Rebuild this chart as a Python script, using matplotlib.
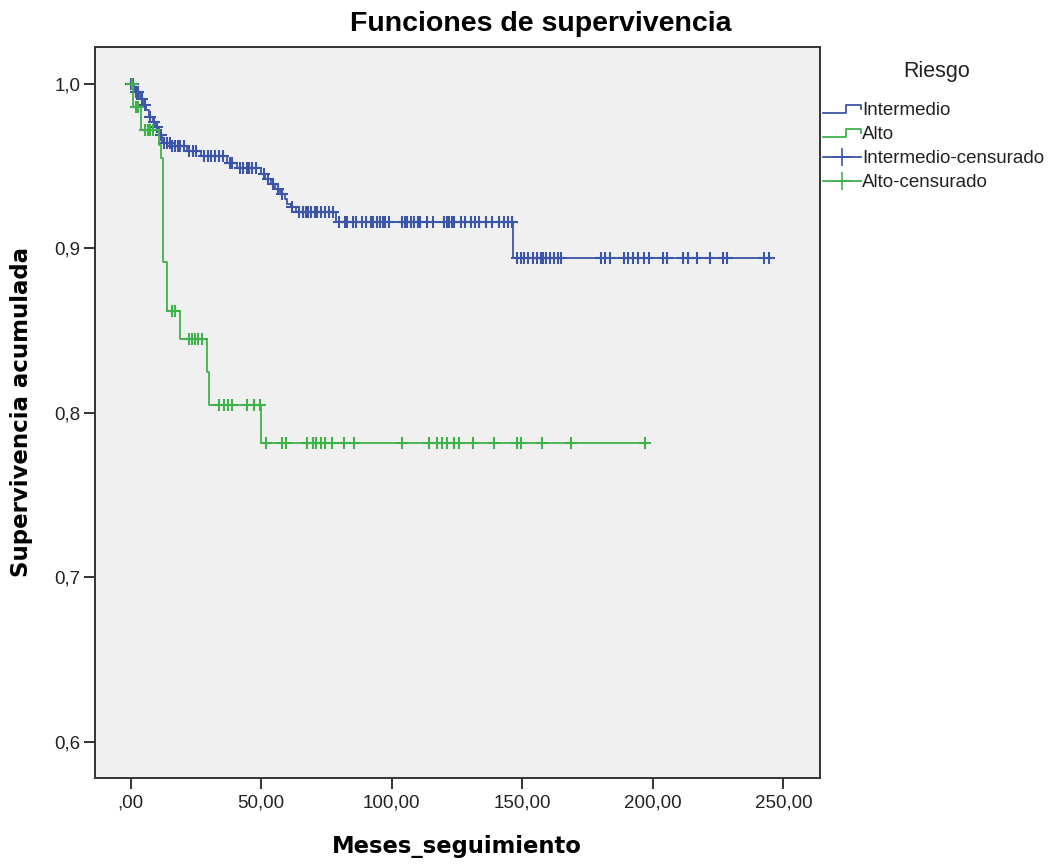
import numpy as np
import matplotlib
matplotlib.use('Agg')
import matplotlib.pyplot as plt
from matplotlib.lines import Line2D
from matplotlib.legend_handler import HandlerBase

# Kaplan-Meier steps (time in months, cumulative survival)
inter_t = [0, 1.5, 3.8, 5, 6, 7, 8.5, 9.6, 10.8, 12, 15.3, 21.7, 26.8, 37, 40.8,
           49.8, 51.5, 53.6, 55.5, 57.4, 59, 60, 61.3, 63.2, 78.5, 146.5]
inter_s = [1.0, 0.995, 0.991, 0.987, 0.984, 0.980, 0.977, 0.974, 0.969, 0.964, 0.962,
           0.959, 0.956, 0.952, 0.949, 0.945, 0.942, 0.939, 0.936, 0.933, 0.930,
           0.927, 0.925, 0.922, 0.916, 0.894]
inter_end = 244.5
inter_cens = [0.3, 1, 2, 3, 4.5, 5.5, 7.5, 9, 10, 11.5, 13, 14, 15, 16, 17, 18, 19,
              20.5, 22.5, 24, 25, 28, 29.5, 31, 32.5, 34, 35.5, 38, 39, 42, 43, 44.5,
              45.5, 46.5, 48, 51, 52.5, 54.5, 56.5, 58, 62, 64.5, 66, 67, 68, 69, 70.5,
              71.5, 73, 74.5, 76, 77.5, 80, 82, 83, 85, 86.5, 88.5, 90, 92, 93, 94.5,
              95.5, 96.5, 97.5, 99, 104, 105, 106, 107.5, 108.5, 110, 111, 113.5, 116,
              120, 121, 122, 123, 124, 126.5, 128, 130.5, 132, 133.5, 136, 138.5, 141,
              143, 144.5, 146, 148, 149.5, 150.5, 152, 154, 155.5, 157, 158, 159,
              160.5, 162, 163.5, 165, 180, 181.5, 183.5, 189, 190.5, 192.5, 194.5,
              196.5, 198.5, 204, 205.5, 211.5, 213.5, 217, 222, 227, 228.5, 242.5, 244.5]

alto_t = [0, 1, 4, 10.8, 11.8, 12.3, 14, 19.1, 29.1, 30, 49.8]
alto_s = [1.0, 0.986, 0.972, 0.963, 0.955, 0.892, 0.862, 0.845, 0.825, 0.805, 0.782]
alto_end = 197
alto_cens = [0.5, 2, 3, 5.5, 6.5, 7.5, 8.5, 16, 17.2, 22.2, 23.5, 24.8, 26, 27.3,
             33.8, 35.7, 37.3, 38.9, 44.7, 47.2, 49.5, 51.7, 58.1, 59.5, 67.7, 69.7,
             71.2, 73.1, 74.5, 77.3, 81.9, 85.4, 103.8, 114.1, 117.5, 119.1, 121,
             123.7, 125.8, 131.3, 139.3, 147.8, 149.7, 157.4, 168.8, 197]

x_ticks = [0, 50, 100, 150, 200, 250]
x_labels = [',00', '50,00', '100,00', '150,00', '200,00', '250,00']
y_ticks = [0.6, 0.7, 0.8, 0.9, 1.0]
y_labels = ['0,6', '0,7', '0,8', '0,9', '1,0']

BLUE = '#3d55a8'
GREEN = '#3fb24c'


def surv_at(times, surv, t):
    idx = np.searchsorted(times, t, side='right') - 1
    return np.asarray(surv)[idx]


class StepHandler(HandlerBase):
    def create_artists(self, legend, orig_handle, xdescent, ydescent,
                       width, height, fontsize, trans):
        x0, y0 = -xdescent, -ydescent
        xs = [x0, x0 + 0.6 * width, x0 + 0.6 * width, x0 + width, x0 + width]
        ys = [y0 + 0.2 * height, y0 + 0.2 * height, y0 + 0.8 * height,
              y0 + 0.8 * height, y0 + 0.45 * height]
        ln = Line2D(xs, ys, color=orig_handle.get_color(),
                    lw=orig_handle.get_linewidth(), transform=trans)
        return [ln]


W, H = 1055, 867
fig = plt.figure(figsize=(W / 100, H / 100), dpi=100)
ax = fig.add_axes([94.5 / W, 1 - 778 / H, (820 - 94.5) / W, (778 - 47) / H])
ax.set_facecolor('#f0f0f0')

for t, s, end, cens, col in [(inter_t, inter_s, inter_end, inter_cens, BLUE),
                             (alto_t, alto_s, alto_end, alto_cens, GREEN)]:
    ax.step(list(t) + [end], list(s) + [s[-1]], where='post', color=col, lw=1.3)
    ax.plot(cens, surv_at(t, s, cens), ls='none', marker='+', ms=9, mew=1.5, color=col)

ax.set_xlim(-13.8, 264)
ax.set_ylim(0.578, 1.0225)
ax.set_xticks(x_ticks)
ax.set_xticklabels(x_labels, fontsize=13.5, family='Liberation Sans', color='#222222')
ax.set_yticks(y_ticks)
ax.set_yticklabels(y_labels, fontsize=13.5, family='Liberation Sans', color='#222222')
ax.tick_params(direction='out', length=8, width=1.4, color='#333333')
ax.tick_params(axis='x', pad=4)
ax.tick_params(axis='y', pad=2)
for sp in ax.spines.values():
    sp.set_color('#333333')
    sp.set_linewidth(1.4)

fig.text(0.513, 1 - 24 / H, 'Funciones de supervivencia', ha='center', va='center',
         fontsize=20.5, fontweight='bold', family='Liberation Sans')
fig.text(457 / W, 1 - 846 / H, 'Meses_seguimiento', ha='center', va='center',
         fontsize=16.3, fontweight='bold', family='DejaVu Sans')
fig.text(22 / W, 1 - 412 / H, 'Supervivencia acumulada', ha='center', va='center',
         rotation=90, fontsize=16.5, fontweight='bold', family='DejaVu Sans')
fig.text(937 / W, 1 - 72 / H, 'Riesgo', ha='center', va='center',
         fontsize=15.5, family='Liberation Sans', color='#222222')

h1 = Line2D([], [], color=BLUE, lw=1.3)
h2 = Line2D([], [], color=GREEN, lw=1.3)
h3 = Line2D([], [], color=BLUE, lw=1.3, marker='+', ms=13, mew=1.2)
h4 = Line2D([], [], color=GREEN, lw=1.3, marker='+', ms=13, mew=1.2)
leg = fig.legend([h1, h2, h3, h4],
                 ['Intermedio', 'Alto', 'Intermedio-censurado', 'Alto-censurado'],
                 handler_map={h1: StepHandler(), h2: StepHandler()},
                 loc='upper left', bbox_to_anchor=(823 / W, 1 - 102 / H),
                 frameon=False, borderpad=0, borderaxespad=0, handlelength=2.0,
                 handletextpad=0.1, labelspacing=0.37,
                 prop={'family': 'Liberation Sans', 'size': 13.5})
for txt in leg.get_texts():
    txt.set_color('#222222')

fig.savefig('out.png', dpi=100)
